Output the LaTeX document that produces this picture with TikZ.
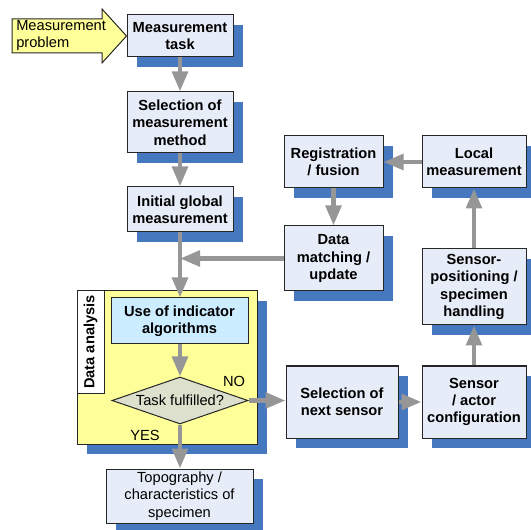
\documentclass[tikz,border=0pt]{standalone}
\usepackage{xcolor}
\usepackage{fontspec}
\setmainfont{Liberation Sans}
\usepackage{tikz}
\usetikzlibrary{arrows.meta,shapes.geometric}

\definecolor{boxfill}{RGB}{231,237,248}
\definecolor{shadowc}{RGB}{70,120,192}
\definecolor{arrgray}{RGB}{150,150,150}
\definecolor{yellowc}{RGB}{255,255,153}
\definecolor{cyanc}{RGB}{204,236,255}
\definecolor{diafill}{RGB}{221,224,204}

\tikzset{
  shd/.style={preaction={fill=shadowc, transform canvas={shift={(7.5pt,-7.75pt)}}}},
  box/.style={draw=black!85, line width=0.75pt, fill=boxfill, align=center, inner sep=0pt,
    font=\bfseries\fontsize{11}{13}\selectfont},
  plainbox/.style={box, font=\fontsize{11}{13}\selectfont},
  lbl/.style={inner sep=0pt, font=\fontsize{11}{13}\selectfont},
  arr/.style={draw=arrgray, line width=3.4pt, -{Triangle[length=15pt,width=11.5pt]}}
}

\begin{document}
\begin{tikzpicture}[x=0.75pt,y=0.75pt,yscale=-1,xscale=1]
\useasboundingbox (0,0) rectangle (531,530);

%Shape: Rectangle [data analysis]
\node[box, shd, fill=yellowc, minimum width=135pt, minimum height=114.75pt] (ana) at (167,367.5) {};
\node[box, fill=white, rotate=90, minimum width=76.5pt, minimum height=20.25pt] (analbl) at (90.5,342) {Data analysis};

%Shape: Rectangle [left column]
\node[box, shd, minimum width=79.5pt, minimum height=31.5pt] (task) at (180,36) {Measurement\\task};
\node[box, shd, minimum width=79.5pt, minimum height=45.75pt] (meth) at (180,122.5) {Selection of\\measurement\\method};
\node[box, shd, minimum width=79.5pt, minimum height=33.75pt] (init) at (180,209.5) {Initial global\\measurement};
\node[box, fill=cyanc, minimum width=102.75pt, minimum height=34.5pt] (indic) at (179.5,321) {Use of indicator\\algorithms};
\node[draw=black!85, line width=0.75pt, fill=diafill, diamond, aspect=2.9, inner sep=0pt,
  minimum width=102pt, minimum height=35.25pt, font=\fontsize{11}{13}\selectfont] (task ok) at (180,400.5) {Task fulfilled?};
\node[plainbox, shd, minimum width=110.25pt, minimum height=40.5pt] (topo) at (179.5,496) {Topography /\\characteristics of\\specimen};

%Shape: Rectangle [right part]
\node[box, shd, minimum width=74.25pt, minimum height=39pt] (reg) at (333.5,162) {Registration\\/ fusion};
\node[box, shd, minimum width=78pt, minimum height=39pt] (loc) at (474,162) {Local\\measurement};
\node[box, shd, minimum width=74.25pt, minimum height=48.75pt] (match) at (333.5,258.5) {Data\\matching /\\update};
\node[box, shd, minimum width=78pt, minimum height=57pt] (pos) at (474,287) {Sensor-\\positioning /\\specimen\\handling};
\node[box, shd, minimum width=84pt, minimum height=54pt] (next) at (342,402) {Selection of\\next sensor};
\node[box, shd, minimum width=78pt, minimum height=54pt] (act) at (474,402) {Sensor\\/ actor\\configuration};

%Shape: Right Arrow [measurement problem]
\draw[draw=black!85, line width=0.75pt, fill=yellowc] (12,19) -- (102,19) -- (102,9) -- (task.west) -- (102,63) -- (102,53) -- (12,53) -- cycle;
% Text Node
\node[lbl, anchor=west, align=left] (prob) at (16,35.5) {Measurement\\problem};
% Text Node
\node[lbl] (no) at (234,381) {NO};
% Text Node
\node[lbl] (yes) at (145,435) {YES};

%Straight Lines
\draw[arr] (task) -- (meth);
\draw[arr] (meth) -- (init);
\draw[arr] (init.south) -- (init.south |- indic.north);
\draw[arr] (match.west) -- (init.south |- match.west);
\draw[arr] (reg) -- (match);
\draw[arr] (loc) -- (reg);
\draw[arr] (pos.north -| loc.south) -- (loc.south);
\draw[arr] (act) -- (pos);
\draw[arr] (next.east) -- (act.west);
\draw[arr] (task ok.east) -- (task ok.east -| next.west);
\draw[arr] (indic.south -| task ok.north) -- (task ok.north);
\draw[arr] (task ok.south) -- (task ok.south |- topo.north);
\end{tikzpicture}
\end{document}
